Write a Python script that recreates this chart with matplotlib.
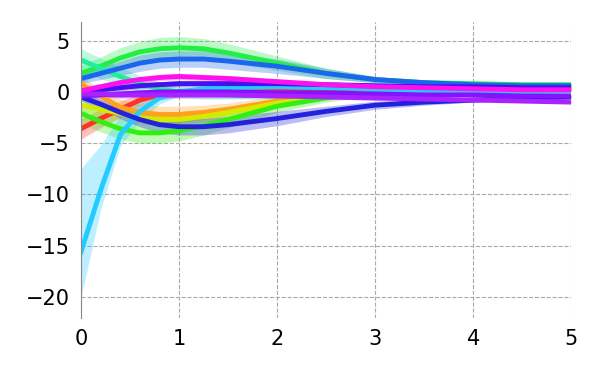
import matplotlib
matplotlib.use("Agg")
import matplotlib.pyplot as plt

# sample positions (shared by every series)
xs = [0, 0.2, 0.4, 0.6, 0.8, 1.0, 1.25, 1.5, 2.0, 2.5, 3.0, 3.5, 4.0, 4.5, 5.0]

# mean curves
red = [-3.6, -2.6, -1.7, -0.8, -0.3, -0.1, 0.1, 0.2, 0.3, 0.3, 0.3, 0.3, 0.3, 0.3, 0.3]
orange = [0.8, -0.4, -1.5, -2.0, -2.2, -2.2, -2.0, -1.7, -0.9, -0.4, -0.1, 0.1, 0.2, 0.3, 0.3]
yellow = [-1.3, -1.7, -2.1, -2.5, -2.7, -2.7, -2.4, -2.0, -1.1, -0.5, -0.1, 0.1, 0.2, 0.3, 0.3]
green_lo = [-2.1, -2.9, -3.6, -4.0, -4.0, -3.8, -3.3, -2.7, -1.4, -0.6, -0.1, 0.2, 0.4, 0.5, 0.6]
green_hi = [1.8, 2.5, 3.3, 3.9, 4.2, 4.3, 4.2, 3.8, 2.8, 1.8, 1.2, 0.9, 0.8, 0.7, 0.7]
teal = [3.1, 2.3, 1.5, 0.8, 0.3, 0.0, -0.2, -0.3, -0.4, -0.3, -0.2, -0.1, 0.0, 0.0, 0.1]
cyan = [-15.6, -9.6, -4.2, -1.9, -0.6, 0.0, 0.3, 0.4, 0.5, 0.4, 0.3, 0.2, 0.1, 0.1, 0.1]
blue = [1.3, 1.8, 2.3, 2.8, 3.1, 3.2, 3.2, 3.0, 2.5, 1.8, 1.2, 0.9, 0.7, 0.6, 0.6]
dark_blue = [-0.5, -1.2, -2.0, -2.7, -3.2, -3.4, -3.4, -3.2, -2.6, -1.9, -1.3, -1.0, -0.8, -0.6, -0.5]
indigo = [-0.1, 0.2, 0.4, 0.6, 0.7, 0.8, 0.8, 0.8, 0.8, 0.7, 0.6, 0.5, 0.5, 0.4, 0.4]
violet = [-0.4, -0.3, -0.2, -0.1, 0.0, 0.0, 0.0, 0.0, -0.1, -0.1, -0.2, -0.3, -0.3, -0.4, -0.4]
purple = [-0.2, -0.2, -0.3, -0.3, -0.3, -0.3, -0.3, -0.3, -0.4, -0.5, -0.6, -0.7, -0.8, -0.9, -1.0]
magenta = [0.1, 0.5, 0.9, 1.2, 1.4, 1.5, 1.4, 1.3, 1.0, 0.7, 0.5, 0.4, 0.3, 0.2, 0.2]

# half widths of the shaded bands
sp_red = [1.0, 0.9, 0.8, 0.6, 0.5, 0.4, 0.3, 0.3, 0.2, 0.2, 0.2, 0.2, 0.2, 0.2, 0.2]
sp_orange = [0.7, 0.7, 0.8, 0.8, 0.8, 0.8, 0.7, 0.6, 0.5, 0.3, 0.2, 0.2, 0.1, 0.1, 0.1]
sp_yellow = [0.6, 0.6, 0.6, 0.6, 0.6, 0.6, 0.5, 0.5, 0.4, 0.3, 0.2, 0.2, 0.1, 0.1, 0.1]
sp_green_lo = [1.0, 1.0, 1.0, 1.0, 1.0, 1.0, 0.9, 0.8, 0.6, 0.4, 0.3, 0.2, 0.2, 0.2, 0.2]
sp_green_hi = [0.8, 0.9, 1.0, 1.0, 1.1, 1.1, 1.0, 0.9, 0.7, 0.5, 0.3, 0.2, 0.2, 0.2, 0.2]
sp_teal = [1.1, 1.0, 0.9, 0.8, 0.7, 0.6, 0.5, 0.4, 0.3, 0.2, 0.2, 0.1, 0.1, 0.1, 0.1]
sp_blue = [0.5, 0.6, 0.7, 0.8, 0.8, 0.8, 0.8, 0.8, 0.7, 0.5, 0.3, 0.2, 0.2, 0.2, 0.2]
sp_dark_blue = [0.4, 0.5, 0.6, 0.7, 0.8, 0.8, 0.8, 0.8, 0.7, 0.5, 0.4, 0.3, 0.2, 0.2, 0.2]
sp_narrow = [0.3, 0.3, 0.3, 0.3, 0.3, 0.3, 0.3, 0.3, 0.2, 0.2, 0.2, 0.2, 0.1, 0.1, 0.1]

# cyan band is lopsided, so keep its edges directly
cyan_hi = [-7.5, -5.2, -2.3, -0.8, 0.0, 0.4, 0.6, 0.7, 0.7, 0.6, 0.4, 0.3, 0.2, 0.2, 0.2]
cyan_lo = [-20.0, -11.5, -5.3, -2.8, -1.2, -0.4, 0.0, 0.1, 0.3, 0.2, 0.2, 0.1, 0.0, 0.0, 0.0]

series = [
    (red, sp_red, "#ff3322"),
    (orange, sp_orange, "#ffa11a"),
    (yellow, sp_yellow, "#d4ea00"),
    (green_lo, sp_green_lo, "#33ee11"),
    (green_hi, sp_green_hi, "#22ee44"),
    (teal, sp_teal, "#22ee99"),
    (cyan, None, "#22ccff"),
    (blue, sp_blue, "#1a66ee"),
    (dark_blue, sp_dark_blue, "#2222dd"),
    (indigo, sp_narrow, "#4411ee"),
    (violet, sp_narrow, "#8811ff"),
    (purple, sp_narrow, "#aa22ff"),
    (magenta, sp_narrow, "#ff11ee"),
]

fig = plt.figure(figsize=(6, 3.75), dpi=100)
ax = fig.add_axes([0.135, 0.152, 0.817, 0.789])

for y, sp, c in series:
    if sp is None:
        lo, hi = cyan_lo, cyan_hi
    else:
        lo = [a - b for a, b in zip(y, sp)]
        hi = [a + b for a, b in zip(y, sp)]
    ax.fill_between(xs, lo, hi, color=c, alpha=0.3, linewidth=0)
    ax.plot(xs, y, color=c, linewidth=3.5, solid_joinstyle="round")

ax.set_xlim(0, 5)
ax.set_ylim(-22.05, 6.8)
ax.set_xticks([0, 1, 2, 3, 4, 5])
ax.set_yticks([5, 0, -5, -10, -15, -20])
ax.grid(True, linestyle="--", color="#aaaaaa", linewidth=0.8)
ax.set_axisbelow(True)
ax.tick_params(length=0, labelsize=15, pad=8)
for s in ["top", "right", "bottom"]:
    ax.spines[s].set_visible(False)
ax.spines["left"].set_color("#888888")

plt.savefig("out.png", dpi=100)
plt.close()
